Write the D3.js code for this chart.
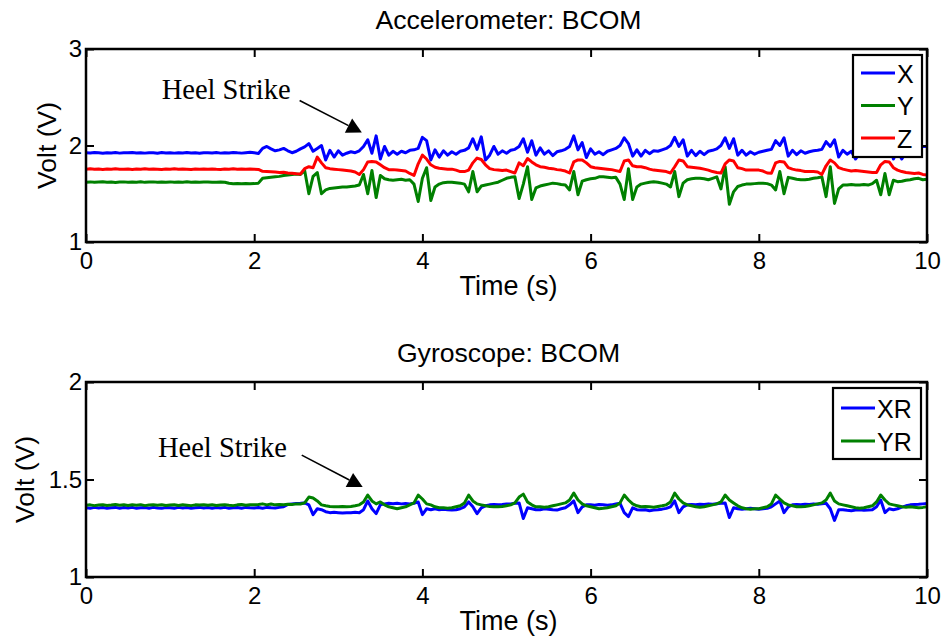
<!DOCTYPE html>
<html>
<head>
<meta charset="utf-8">
<script src="https://cdn.jsdelivr.net/npm/d3@7"></script>
<style>
  html, body { margin: 0; padding: 0; background: #fff; }
  svg { display: block; }
  text { font-family: "Liberation Sans", Arial, Helvetica, sans-serif; fill: #000; }
</style>
</head>
<body>
<svg id="chart" width="947" height="641"></svg>
<script>
// ---- data -------------------------------------------------------------
const timeTicks = [0, 2, 4, 6, 8, 10];
const accelTicks = [1, 2, 3];
const gyroTicks = [1, 1.5, 2];
const sampleStep = 0.05; // seconds between samples, 0 .. 10 s

// Accelerometer (V)
const accelX = [
  1.925,1.922,1.928,1.924,1.920,1.926,1.923,1.927,1.921,1.925,
  1.924,1.928,1.922,1.925,1.921,1.926,1.924,1.920,1.927,1.923,
  1.925,1.921,1.926,1.923,1.928,1.922,1.925,1.920,1.926,1.924,
  1.922,1.927,1.921,1.925,1.923,1.928,1.924,1.921,1.926,1.929,
  1.924,1.918,1.970,1.990,1.965,1.945,1.955,1.970,1.945,1.925,
  1.940,1.965,1.985,2.020,1.940,1.970,2.000,1.850,1.950,1.880,
  1.945,1.900,1.920,1.935,1.925,1.945,1.990,2.060,1.920,2.100,
  1.860,1.990,1.900,1.940,1.910,1.940,1.925,1.950,1.955,1.970,
  2.085,2.050,1.850,1.955,1.880,1.945,1.900,1.935,1.910,1.940,
  1.950,1.975,2.070,1.960,2.090,1.850,1.900,1.990,1.910,1.945,
  1.920,1.950,1.960,1.990,2.070,1.930,2.050,1.900,1.975,1.910,
  1.945,1.895,1.935,1.945,1.960,1.990,2.100,1.955,2.030,1.875,
  1.965,1.910,1.935,1.905,1.940,1.955,1.970,2.000,2.080,2.020,
  1.890,1.955,1.890,1.950,1.915,1.945,1.940,1.955,1.970,2.000,
  2.085,1.990,2.060,1.890,1.950,1.895,1.940,1.905,1.940,1.950,
  1.965,2.000,2.080,1.970,2.070,1.900,1.950,1.900,1.935,1.910,
  1.930,1.940,1.950,1.960,2.050,2.000,2.080,1.890,1.950,1.905,
  1.945,1.920,1.935,1.945,1.950,1.960,2.040,1.990,2.060,1.880,
  1.950,1.910,1.940,1.860,1.920,1.900,1.940,1.930,1.960,2.050,
  1.980,2.060,1.860,1.940,1.860,1.930,1.900,1.940,1.960,1.990,
  1.990
];
const accelY = [
  1.620,1.623,1.618,1.621,1.624,1.619,1.622,1.617,1.621,1.623,
  1.619,1.622,1.620,1.624,1.618,1.621,1.623,1.619,1.622,1.620,
  1.623,1.618,1.621,1.620,1.624,1.619,1.622,1.618,1.621,1.623,
  1.620,1.618,1.622,1.619,1.608,1.604,1.607,1.603,1.606,1.604,
  1.605,1.610,1.660,1.665,1.670,1.675,1.680,1.690,1.695,1.700,
  1.705,1.700,1.740,1.500,1.680,1.720,1.500,1.540,1.555,1.560,
  1.565,1.570,1.570,1.575,1.580,1.590,1.700,1.500,1.740,1.460,
  1.690,1.655,1.645,1.640,1.645,1.650,1.640,1.645,1.600,1.420,
  1.660,1.770,1.430,1.570,1.600,1.615,1.620,1.620,1.615,1.610,
  1.600,1.520,1.730,1.520,1.580,1.590,1.600,1.610,1.620,1.640,
  1.660,1.670,1.675,1.450,1.600,1.780,1.440,1.560,1.580,1.590,
  1.600,1.610,1.605,1.595,1.590,1.540,1.730,1.490,1.630,1.645,
  1.655,1.660,1.675,1.675,1.670,1.665,1.670,1.600,1.440,1.760,
  1.440,1.570,1.600,1.610,1.620,1.625,1.620,1.610,1.600,1.570,
  1.730,1.470,1.610,1.645,1.655,1.660,1.660,1.655,1.645,1.660,
  1.675,1.550,1.780,1.390,1.520,1.575,1.590,1.600,1.600,1.605,
  1.610,1.610,1.605,1.590,1.540,1.730,1.500,1.670,1.660,1.650,
  1.645,1.645,1.650,1.660,1.665,1.675,1.470,1.780,1.400,1.550,
  1.590,1.590,1.595,1.590,1.590,1.595,1.590,1.605,1.640,1.490,
  1.710,1.490,1.640,1.625,1.630,1.640,1.645,1.655,1.660,1.645,
  1.650
];
const accelZ = [
  1.755,1.758,1.753,1.756,1.752,1.757,1.754,1.758,1.755,1.753,
  1.756,1.752,1.757,1.754,1.758,1.753,1.756,1.755,1.752,1.757,
  1.754,1.758,1.753,1.756,1.755,1.752,1.757,1.754,1.756,1.753,
  1.757,1.754,1.752,1.756,1.755,1.758,1.753,1.756,1.754,1.757,
  1.755,1.752,1.732,1.730,1.728,1.725,1.720,1.722,1.715,1.712,
  1.708,1.705,1.760,1.780,1.770,1.880,1.820,1.770,1.760,1.755,
  1.750,1.745,1.740,1.735,1.725,1.700,1.750,1.830,1.835,1.830,
  1.800,1.770,1.750,1.750,1.745,1.740,1.735,1.710,1.690,1.810,
  1.900,1.860,1.800,1.775,1.765,1.760,1.755,1.755,1.745,1.730,
  1.730,1.745,1.820,1.870,1.855,1.800,1.760,1.750,1.745,1.740,
  1.745,1.730,1.715,1.820,1.790,1.865,1.830,1.800,1.780,1.775,
  1.765,1.760,1.750,1.745,1.735,1.715,1.830,1.850,1.850,1.820,
  1.780,1.770,1.765,1.760,1.755,1.750,1.740,1.730,1.840,1.850,
  1.790,1.780,1.780,1.770,1.755,1.745,1.740,1.735,1.730,1.715,
  1.780,1.850,1.840,1.780,1.775,1.770,1.765,1.755,1.745,1.730,
  1.720,1.715,1.810,1.850,1.840,1.770,1.760,1.745,1.745,1.745,
  1.745,1.735,1.715,1.712,1.820,1.835,1.830,1.770,1.755,1.745,
  1.740,1.730,1.730,1.730,1.725,1.700,1.790,1.850,1.820,1.770,
  1.755,1.745,1.735,1.740,1.735,1.730,1.725,1.720,1.720,1.800,
  1.835,1.830,1.770,1.745,1.730,1.720,1.715,1.710,1.715,1.700,
  1.695
];

// Gyroscope (V)
const gyroXR = [
  1.355,1.353,1.357,1.354,1.356,1.352,1.355,1.357,1.353,1.356,
  1.354,1.357,1.352,1.355,1.356,1.353,1.357,1.354,1.352,1.356,
  1.355,1.353,1.357,1.354,1.356,1.352,1.355,1.357,1.354,1.356,
  1.353,1.356,1.354,1.357,1.352,1.355,1.356,1.353,1.357,1.355,
  1.354,1.356,1.353,1.357,1.355,1.354,1.357,1.360,1.372,1.375,
  1.377,1.378,1.380,1.370,1.320,1.350,1.345,1.335,1.330,1.332,
  1.330,1.328,1.330,1.330,1.332,1.330,1.345,1.390,1.350,1.325,
  1.370,1.375,1.378,1.376,1.378,1.375,1.377,1.375,1.378,1.385,
  1.320,1.350,1.345,1.350,1.345,1.348,1.345,1.343,1.345,1.350,
  1.360,1.385,1.360,1.325,1.355,1.365,1.370,1.372,1.370,1.372,
  1.375,1.375,1.378,1.380,1.300,1.355,1.350,1.345,1.345,1.350,
  1.348,1.345,1.343,1.350,1.355,1.370,1.390,1.330,1.360,1.370,
  1.370,1.368,1.372,1.370,1.368,1.370,1.375,1.378,1.330,1.310,
  1.355,1.345,1.343,1.345,1.340,1.343,1.345,1.348,1.352,1.360,
  1.390,1.330,1.360,1.370,1.372,1.370,1.373,1.372,1.375,1.373,
  1.376,1.378,1.380,1.305,1.355,1.350,1.348,1.350,1.352,1.350,
  1.348,1.350,1.352,1.360,1.375,1.390,1.330,1.360,1.370,1.372,
  1.370,1.373,1.372,1.375,1.373,1.376,1.378,1.350,1.290,1.345,
  1.345,1.342,1.340,1.343,1.345,1.342,1.343,1.345,1.360,1.395,
  1.330,1.350,1.345,1.350,1.358,1.365,1.370,1.372,1.373,1.375,
  1.377
];
const gyroYR = [
  1.368,1.370,1.366,1.369,1.371,1.367,1.369,1.372,1.368,1.370,
  1.367,1.370,1.368,1.371,1.366,1.369,1.370,1.368,1.371,1.367,
  1.369,1.371,1.367,1.370,1.368,1.366,1.370,1.369,1.371,1.368,
  1.370,1.367,1.369,1.371,1.368,1.366,1.370,1.372,1.368,1.371,
  1.370,1.372,1.375,1.370,1.374,1.370,1.372,1.370,1.373,1.372,
  1.375,1.374,1.380,1.410,1.405,1.390,1.370,1.365,1.362,1.360,
  1.360,1.362,1.360,1.362,1.365,1.370,1.385,1.420,1.390,1.375,
  1.385,1.370,1.360,1.355,1.350,1.355,1.360,1.370,1.380,1.420,
  1.400,1.375,1.370,1.360,1.355,1.355,1.352,1.355,1.360,1.365,
  1.380,1.420,1.390,1.375,1.370,1.365,1.362,1.360,1.360,1.362,
  1.365,1.370,1.380,1.410,1.425,1.385,1.370,1.360,1.360,1.358,
  1.360,1.365,1.370,1.375,1.380,1.395,1.430,1.395,1.375,1.365,
  1.360,1.355,1.350,1.352,1.355,1.360,1.365,1.380,1.420,1.395,
  1.375,1.365,1.360,1.362,1.360,1.358,1.362,1.365,1.370,1.385,
  1.430,1.400,1.380,1.370,1.365,1.360,1.358,1.360,1.365,1.370,
  1.375,1.385,1.420,1.395,1.380,1.365,1.355,1.350,1.348,1.350,
  1.350,1.355,1.360,1.375,1.420,1.400,1.380,1.370,1.365,1.360,
  1.360,1.362,1.365,1.370,1.375,1.380,1.395,1.430,1.390,1.375,
  1.370,1.365,1.360,1.355,1.352,1.355,1.360,1.365,1.385,1.420,
  1.395,1.375,1.370,1.365,1.360,1.358,1.360,1.358,1.355,1.357,
  1.360
];

// "Heel Strike" callouts, in data units (time s, volts)
const accelNote = { label: "Heel Strike", textAt: [0.90, 2.482], from: [2.54, 2.466], to: [3.28, 2.135] };
const gyroNote  = { label: "Heel Strike", textAt: [0.856, 1.616], from: [2.565, 1.625], to: [3.29, 1.462] };

// ---- drawing ----------------------------------------------------------
const svg = d3.select("#chart");
svg.append("rect").attr("width", 947).attr("height", 641).attr("fill", "#fff");

const sampleTime = accelX.map((_, i) => i * sampleStep);
const COLORS = { blue: "#0000ff", green: "#008000", red: "#ff0000" };
const plotLeft = 86, plotRight = 927;

const panels = [
  {
    key: "accel", title: "Accelerometer: BCOM", top: 49, bottom: 242,
    domain: [1, 3], ticks: accelTicks, ylabelX: 56,
    series: [
      { name: "X", values: accelX, color: COLORS.blue },
      { name: "Y", values: accelY, color: COLORS.green },
      { name: "Z", values: accelZ, color: COLORS.red }
    ],
    legend: { left: 853, top: 55, width: 69, firstRow: 18, rowGap: 32.5, height: 102 },
    note: accelNote
  },
  {
    key: "gyro", title: "Gyroscope: BCOM", top: 382, bottom: 577,
    domain: [1, 2], ticks: gyroTicks, ylabelX: 34,
    series: [
      { name: "XR", values: gyroXR, color: COLORS.blue },
      { name: "YR", values: gyroYR, color: COLORS.green }
    ],
    legend: { left: 833, top: 388, width: 88, firstRow: 20, rowGap: 33, height: 71 },
    note: gyroNote
  }
];

function styleAxis(g, fontSize) {
  g.select(".domain").remove();
  g.attr("font-family", null).attr("font-size", null);
  g.selectAll(".tick line").attr("stroke", "#000").attr("stroke-width", 2);
  g.selectAll(".tick text").attr("fill", "#000").style("font-size", fontSize + "px");
}

panels.forEach(p => {
  const x = d3.scaleLinear().domain([0, 10]).range([plotLeft, plotRight]);
  const y = d3.scaleLinear().domain(p.domain).range([p.bottom, p.top]);
  const g = svg.append("g");
  const clipId = "clip-" + p.key;

  svg.append("clipPath").attr("id", clipId)
    .append("rect")
    .attr("x", plotLeft).attr("y", p.top)
    .attr("width", plotRight - plotLeft).attr("height", p.bottom - p.top);

  // signal traces
  const line = d3.line()
    .x((d, i) => x(sampleTime[i]))
    .y(d => y(d));
  p.series.forEach(s => {
    g.append("path")
      .attr("clip-path", `url(#${clipId})`)
      .attr("d", line(s.values))
      .attr("fill", "none")
      .attr("stroke", s.color)
      .attr("stroke-width", 3)
      .attr("stroke-linejoin", "round")
      .attr("stroke-linecap", "round");
  });

  // axes: ticks on all four sides, pointing inward
  const tick = 8;
  g.append("g").attr("transform", `translate(0,${p.bottom})`)
    .call(d3.axisBottom(x).tickValues(timeTicks).tickSize(-tick).tickPadding(10).tickFormat(d => String(d)))
    .call(a => styleAxis(a, 24));
  g.append("g").attr("transform", `translate(0,${p.top})`)
    .call(d3.axisTop(x).tickValues(timeTicks).tickSize(-tick).tickFormat(""))
    .call(a => styleAxis(a, 24));
  g.append("g").attr("transform", `translate(${plotLeft},0)`)
    .call(d3.axisLeft(y).tickValues(p.ticks).tickSize(-tick).tickPadding(4).tickFormat(d => String(d)))
    .call(a => styleAxis(a, 24));
  g.append("g").attr("transform", `translate(${plotRight},0)`)
    .call(d3.axisRight(y).tickValues(p.ticks).tickSize(-tick).tickFormat(""))
    .call(a => styleAxis(a, 24));

  g.append("rect")
    .attr("x", plotLeft).attr("y", p.top)
    .attr("width", plotRight - plotLeft).attr("height", p.bottom - p.top)
    .attr("fill", "none").attr("stroke", "#000").attr("stroke-width", 2.5);

  // title and axis labels
  const midX = (plotLeft + plotRight) / 2 + 2;
  g.append("text").attr("x", midX).attr("y", p.top - 20)
    .attr("text-anchor", "middle").style("font-size", "26.6px").text(p.title);
  g.append("text").attr("x", midX).attr("y", p.bottom + 53)
    .attr("text-anchor", "middle").style("font-size", "27px").text("Time (s)");
  g.append("text")
    .attr("transform", `translate(${p.ylabelX},${(p.top + p.bottom) / 2}) rotate(-90)`)
    .attr("text-anchor", "middle").style("font-size", "26.5px").text("Volt (V)");

  // legend
  const L = p.legend;
  const lg = g.append("g");
  lg.append("rect")
    .attr("x", L.left).attr("y", L.top).attr("width", L.width).attr("height", L.height)
    .attr("fill", "#fff").attr("stroke", "#000").attr("stroke-width", 2.2);
  p.series.forEach((s, i) => {
    const cy = L.top + L.firstRow + i * L.rowGap;
    lg.append("line")
      .attr("x1", L.left + 8).attr("x2", L.left + 42)
      .attr("y1", cy).attr("y2", cy)
      .attr("stroke", s.color).attr("stroke-width", 3);
    lg.append("text")
      .attr("x", L.left + 44).attr("y", cy + 9.5)
      .style("font-size", "25px").text(s.name);
  });

  // heel strike callout
  const n = p.note;
  g.append("text")
    .attr("x", x(n.textAt[0])).attr("y", y(n.textAt[1]))
    .style("font-family", "'Liberation Serif', 'Times New Roman', serif")
    .style("font-size", "28.5px")
    .text(n.label);
  const x0 = x(n.from[0]), y0 = y(n.from[1]);
  const x1 = x(n.to[0]), y1 = y(n.to[1]);
  const len = Math.hypot(x1 - x0, y1 - y0);
  const ux = (x1 - x0) / len, uy = (y1 - y0) / len;
  const headLen = 15, headHalf = 8;
  const bx = x1 - ux * headLen, by = y1 - uy * headLen;
  g.append("line")
    .attr("x1", x0).attr("y1", y0).attr("x2", bx).attr("y2", by)
    .attr("stroke", "#000").attr("stroke-width", 1.6);
  g.append("polygon")
    .attr("points", [
      [x1, y1],
      [bx - uy * headHalf, by + ux * headHalf],
      [bx + uy * headHalf, by - ux * headHalf]
    ].map(pt => pt.join(",")).join(" "))
    .attr("fill", "#000");
});
</script>
</body>
</html>
